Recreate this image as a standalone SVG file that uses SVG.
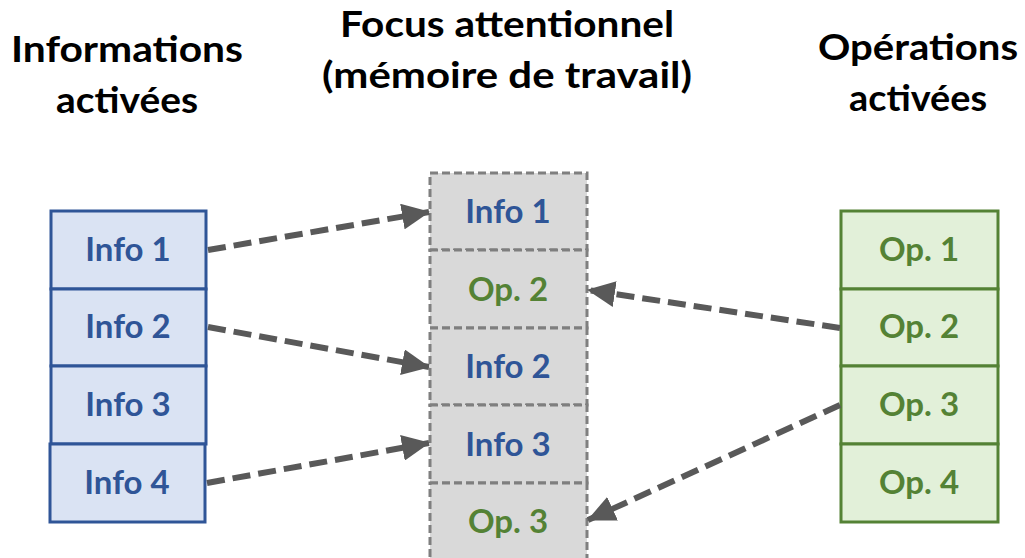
<svg xmlns="http://www.w3.org/2000/svg" width="1025" height="558" viewBox="0 0 1025 558">
  <style>
    text { font-family: Lato, "Open Sans", "Liberation Sans", sans-serif; font-weight: bold; text-anchor: middle; }
    .hdr { font-size: 36px; fill: #000000; }
    .lbl { font-size: 33px; }
    .info rect { fill: #DAE3F3; stroke: #2F5597; stroke-width: 3; }
    .info text { fill: #2F5597; }
    .op rect { fill: #E2F0D9; stroke: #548235; stroke-width: 3; }
    .op text { fill: #548235; }
    .focus rect { fill: #D9D9D9; stroke: #7F7F7F; stroke-width: 3; stroke-dasharray: 8 4; }
    .focus .t-info { fill: #2F5597; }
    .focus .t-op { fill: #548235; }
    .link { fill: none; stroke: #595959; stroke-width: 6; stroke-dasharray: 18 8; marker-end: url(#head); }
  </style>
  <defs>
    <marker id="head" markerUnits="userSpaceOnUse" markerWidth="28" markerHeight="26" viewBox="0 0 28 26" refX="27" refY="13" orient="auto">
      <path d="M0,0 L28,13 L0,26 Z" fill="#595959"/>
    </marker>
  </defs>

  <!-- column headings -->
  <g id="headers">
    <text class="hdr" x="127" y="62" textLength="232" lengthAdjust="spacingAndGlyphs">Informations</text>
    <text class="hdr" x="127" y="113" textLength="142" lengthAdjust="spacingAndGlyphs">activées</text>
    <text class="hdr" x="507" y="37" textLength="334" lengthAdjust="spacingAndGlyphs">Focus attentionnel</text>
    <text class="hdr" x="507" y="88" textLength="370" lengthAdjust="spacingAndGlyphs">(mémoire de travail)</text>
    <text class="hdr" x="918" y="60" textLength="200" lengthAdjust="spacingAndGlyphs">Opérations</text>
    <text class="hdr" x="918" y="111" textLength="138" lengthAdjust="spacingAndGlyphs">activées</text>
  </g>

  <!-- activated information -->
  <g id="info-1" class="info"><rect x="51" y="211" width="155" height="78"/><text class="lbl" x="128" y="261">Info 1</text></g>
  <g id="info-2" class="info"><rect x="51" y="289" width="155" height="77"/><text class="lbl" x="128" y="338">Info 2</text></g>
  <g id="info-3" class="info"><rect x="51" y="366" width="155" height="78"/><text class="lbl" x="128" y="416">Info 3</text></g>
  <g id="info-4" class="info"><rect x="50" y="444" width="155" height="78"/><text class="lbl" x="127" y="494">Info 4</text></g>

  <!-- attentional focus (working memory) -->
  <g id="focus-1" class="focus"><rect x="430" y="173" width="157" height="77"/><text class="lbl t-info" x="508" y="223">Info 1</text></g>
  <g id="focus-2" class="focus"><rect x="430" y="250" width="157" height="78"/><text class="lbl t-op" x="508" y="301">Op. 2</text></g>
  <g id="focus-3" class="focus"><rect x="430" y="328" width="157" height="77"/><text class="lbl t-info" x="508" y="378">Info 2</text></g>
  <g id="focus-4" class="focus"><rect x="430" y="405" width="157" height="78"/><text class="lbl t-info" x="508" y="456">Info 3</text></g>
  <g id="focus-5" class="focus"><rect x="430" y="483" width="157" height="78"/><text class="lbl t-op" x="508" y="533">Op. 3</text></g>

  <!-- activated operations -->
  <g id="op-1" class="op"><rect x="841" y="211" width="157" height="78"/><text class="lbl" x="919" y="261">Op. 1</text></g>
  <g id="op-2" class="op"><rect x="841" y="289" width="157" height="77"/><text class="lbl" x="919" y="338">Op. 2</text></g>
  <g id="op-3" class="op"><rect x="841" y="366" width="157" height="78"/><text class="lbl" x="919" y="416">Op. 3</text></g>
  <g id="op-4" class="op"><rect x="841" y="444" width="157" height="78"/><text class="lbl" x="919" y="494">Op. 4</text></g>

  <!-- connectors -->
  <g id="connectors">
    <line class="link" x1="208" y1="250" x2="429" y2="212"/>
    <line class="link" x1="208" y1="327" x2="429" y2="367"/>
    <line class="link" x1="207" y1="483" x2="429" y2="443"/>
    <line class="link" x1="840" y1="328" x2="588" y2="290"/>
    <line class="link" x1="840" y1="405" x2="588" y2="520"/>
  </g>
</svg>
